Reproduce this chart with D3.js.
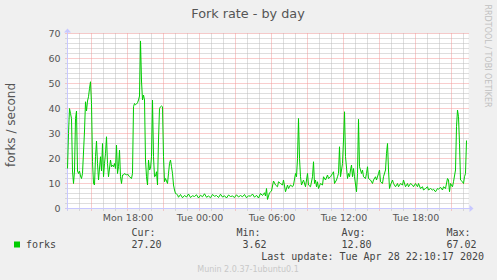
<!DOCTYPE html>
<html>
<head>
	<meta charset="UTF-8" />
	<title>Fork rate - by day</title>
	<script src="https://d3js.org/d3.v7.min.js"></script>
	<style>
		body { margin: 0; background: #f0f0f0; }
		svg text { font-family: "DejaVu Sans", sans-serif; fill: #555; }
		svg text.mono { font-family: "DejaVu Sans Mono", monospace; fill: #444; }
	</style>
</head>
<body>
	<div id="main"></div>
	<script type="text/javascript">

		// 5 minute slots counted from Mon Apr 27 2020 13:00
		var slots = [0,1,2,3,4,5,6,7,8,9,10,11,12,13,14,15,17,18,19,20,21,22,23,24,25,26,27,28,29,30,31,33,34,35,36,37,38,39,40,41,43,44,45,46,47,48,49,50,51,52,53,54,55,56,57,59,60,62,64,65,66,67,68,69,70,71,72,73,74,75,76,77,78,79,80,81,82,83,84,85,86,87,88,89,90,91,92,93,94,95,96,97,98,99,100,101,102,103,104,105,106,107,108,109,110,
			111,113,115,117,119,121,123,125,127,129,131,133,135,137,139,141,143,145,147,149,151,153,155,157,159,161,163,165,167,169,171,173,175,177,179,181,183,185,187,189,191,193,195,197,198,199,200,202,204,205,206,208,210,211,213,215,216,218,220,221,223,225,226,228,229,230,231,232,233,234,236,238,240,241,243,245,246,247,248,249,250,251,253,255,256,258,260,261,263,265,266,267,269,270,271,272,273,275,276,277,278,280,281,282,283,284,285,286,287,289,290,291,292,294,295,296,298,299,300,301,303,305,306,308,309,311,312,313,315,316,318,319,320,321,322,323,325,326,328,330,331,333,335,336,338,340,341,343,345,346,348,350,351,353,355,356,358,360,361,363,365,366,368,370,371,373,375,376,378,380,381,382,383,385,386,388,389,390,391,392,393,395,396,397,398,399];
		var forks = [16,30,40,38,36,15,10,15,36,39,15,14,15,13,12,14,31,42.7,39,43,44.7,48,50.7,42,18.7,10,9.4,20.7,27,18,11.4,20.7,15,26,12.7,18,22,28.7,18,12.7,19.4,16.7,17.4,16.7,18,16,25.4,14,16.7,23.4,12.7,10,13.4,13.4,14,13.4,13.8,12.7,12,14,40.7,42,41.5,41.8,42.3,43.4,45,67.02,51,43.4,45.4,43.4,19.4,12.7,9.4,19.4,15.4,16,20.7,43.4,20.7,12.7,13,14.7,9.4,27.4,40,40.7,41,40.7,20.7,10.7,12,11,10,14,18,19.4,16.7,14,9.4,7.4,6,5.8,5.5,
			4.5,5.6,4.3,5.2,4.6,5.8,4.4,5.1,4.8,5.5,4.2,5.3,4.7,5.9,4.5,5.0,4.3,5.6,4.9,5.2,4.4,5.7,4.6,5.1,4.2,5.4,4.8,5.0,4.4,5.5,4.6,5.2,4.7,5.6,4.3,5.1,4.9,5.8,4.5,5.3,4.2,6.0,5.2,6.3,5.0,8,3.62,6.3,7,9,11,9.4,8.7,10.7,10,9.4,11.4,6.7,9.4,8,9.4,8.7,9.4,14,12.7,20,36,20,12.7,9.4,11.4,8.7,14,9.4,8.7,12.7,18.7,10,11.4,8.7,10.7,8,10,9.4,12.7,11.4,13.4,12,12.7,14,14.7,10,11.4,12.7,14,24.7,12.7,18,27.4,38.7,20.7,12,14,12.7,15.4,17.4,12.7,16,12.7,6.7,14,35.7,16.7,14,15.4,12.7,12,14,16.7,12,11.4,10,11.4,12.7,11.4,14,15.4,10.7,10,12.7,15.4,22,26,15.4,8,9.4,11.4,10,8.7,10,8.7,10,9.4,11.4,8.7,10,8.7,10,9.4,8.7,10,8.7,10,8,8.7,7.4,8,8.7,7.4,8,7.4,7.7,6.7,8,7.7,8.5,7.4,8.7,8,12,11.4,6.7,10,8.7,10.7,15.4,32.7,39.4,36.7,26,11.4,10.7,10,12.7,14,27.2];

		var yTicks = [0, 10, 20, 30, 40, 50, 60, 70];
		var legendLabels = ['Cur:', 'Min:', 'Avg:', 'Max:'];
		var legendValues = ['27.20', '3.62', '12.80', '67.02'];

		var width = 497;
		var height = 280;
		var start = new Date(2020, 3, 27, 13, 0);
		var end = new Date(start.getTime() + 401 * 300000);

		var svg = d3.select('#main')
			.append('svg')
			.attr('width', width)
			.attr('height', height);

		svg.append('rect').attr('width', width).attr('height', height).attr('fill', '#f0f0f0');

		var x = d3.scaleTime().domain([start, end]).range([67.5, 468.5]);
		var y = d3.scaleLinear().domain([0, 70]).range([208.5, 33.5]);

		svg.append('rect')
			.attr('x', x.range()[0]).attr('y', y(70))
			.attr('width', x.range()[1] - x.range()[0])
			.attr('height', y(0) - y(70))
			.attr('fill', '#fff');

		// minor grid
		var minorY = d3.range(0, 71, 2).filter(function(d){ return d % 10 !== 0; });
		var minorX = d3.timeHour.every(1).range(start, end).filter(function(d){ return d.getHours() % 3 !== 0; });
		var majorX = d3.timeHour.every(3).range(start, end);

		var grid = svg.append('g');
		grid.selectAll('.minh').data(minorY).enter().append('line')
			.attr('x1', x.range()[0] - 2).attr('x2', x.range()[1])
			.attr('y1', y).attr('y2', y)
			.attr('stroke', '#bdbdbd').attr('stroke-dasharray', '1,1');
		grid.selectAll('.minv').data(minorX).enter().append('line')
			.attr('x1', x).attr('x2', x)
			.attr('y1', y(0) + 2).attr('y2', y(70))
			.attr('stroke', '#bdbdbd').attr('stroke-dasharray', '1,1');
		grid.selectAll('.majh').data(yTicks).enter().append('line')
			.attr('x1', x.range()[0] - 2).attr('x2', x.range()[1])
			.attr('y1', y).attr('y2', y)
			.attr('stroke', '#f29a9a').attr('stroke-dasharray', '1,1');
		grid.selectAll('.majv').data(majorX).enter().append('line')
			.attr('x1', x).attr('x2', x)
			.attr('y1', y(0) + 2).attr('y2', y(70))
			.attr('stroke', '#f29a9a').attr('stroke-dasharray', '1,1');

		// axes with arrows
		var axisColor = '#c8c8ff';
		svg.append('line')
			.attr('x1', x.range()[0] - 2).attr('x2', x.range()[1] + 2)
			.attr('y1', y(0)).attr('y2', y(0))
			.attr('stroke', axisColor);
		svg.append('path')
			.attr('d', 'M' + (x.range()[1] + 1) + ',' + (y(0) - 3.5) + 'L' + (x.range()[1] + 5) + ',' + y(0) + 'L' + (x.range()[1] + 1) + ',' + (y(0) + 3.5) + 'Z')
			.attr('fill', axisColor);
		svg.append('line')
			.attr('x1', x.range()[0]).attr('x2', x.range()[0])
			.attr('y1', y(0) + 2).attr('y2', y(70) - 2)
			.attr('stroke', axisColor);
		svg.append('path')
			.attr('d', 'M' + (x.range()[0] - 3.5) + ',' + (y(70) - 1) + 'L' + x.range()[0] + ',' + (y(70) - 5) + 'L' + (x.range()[0] + 3.5) + ',' + (y(70) - 1) + 'Z')
			.attr('fill', axisColor);

		// tick labels
		svg.append('g').selectAll('text').data(yTicks).enter().append('text')
			.attr('x', 60.5).attr('y', y).attr('dy', '0.36em')
			.attr('text-anchor', 'end')
			.style('font-size', '9.5px')
			.text(function(d){ return d; });

		var fmt = d3.timeFormat('%a %H:%M');
		svg.append('g').selectAll('text').data(d3.timeHour.every(6).range(start, end)).enter().append('text')
			.attr('x', function(d){ return x(d) + 0.5; }).attr('y', 220.7)
			.attr('text-anchor', 'middle')
			.style('font-size', '9.5px')
			.text(fmt);

		// data line
		var line = d3.line()
			.x(function(d, i){ return x(new Date(start.getTime() + slots[i] * 300000)); })
			.y(function(d){ return y(d); });
		svg.append('path')
			.datum(forks)
			.attr('d', line)
			.attr('fill', 'none')
			.attr('stroke', '#00cc00')
			.attr('stroke-width', 1);

		// titles
		svg.append('text')
			.attr('x', 248).attr('y', 18)
			.attr('text-anchor', 'middle')
			.style('font-size', '12.8px')
			.text('Fork rate - by day');
		svg.append('text')
			.attr('transform', 'translate(15,125) rotate(-90)')
			.attr('text-anchor', 'middle')
			.style('font-size', '12px')
			.text('forks / second');
		svg.append('text')
			.attr('transform', 'translate(485,56) rotate(90)')
			.attr('text-anchor', 'middle')
			.style('font-size', '8px')
			.style('fill', '#c0c0c0')
			.text('RRDTOOL / TOBI OETIKER');

		// legend
		svg.append('rect')
			.attr('x', 14).attr('y', 241.5).attr('width', 6).attr('height', 6)
			.attr('fill', '#00cc00');
		svg.append('text').attr('class', 'mono')
			.attr('x', 26).attr('y', 248)
			.style('font-size', '10px')
			.text('forks');

		var legend = svg.append('g').selectAll('g').data(legendLabels).enter().append('g')
			.attr('transform', function(d, i){ return 'translate(' + (131.5 + i * 105) + ',0)'; });
		legend.append('text').attr('class', 'mono')
			.attr('y', 235.5)
			.style('font-size', '10px')
			.text(function(d){ return d; });
		legend.append('text').attr('class', 'mono')
			.attr('x', 30).attr('y', 248)
			.attr('text-anchor', 'end')
			.style('font-size', '10px')
			.text(function(d, i){ return legendValues[i]; });

		svg.append('text').attr('class', 'mono')
			.attr('x', 484).attr('y', 260)
			.attr('text-anchor', 'end')
			.style('font-size', '10px')
			.text('Last update: Tue Apr 28 22:10:17 2020');

		svg.append('text')
			.attr('x', 248).attr('y', 271.5)
			.attr('text-anchor', 'middle')
			.style('font-size', '8px')
			.style('fill', '#c8c8c8')
			.text('Munin 2.0.37-1ubuntu0.1');
	</script>
</body>
</html>
